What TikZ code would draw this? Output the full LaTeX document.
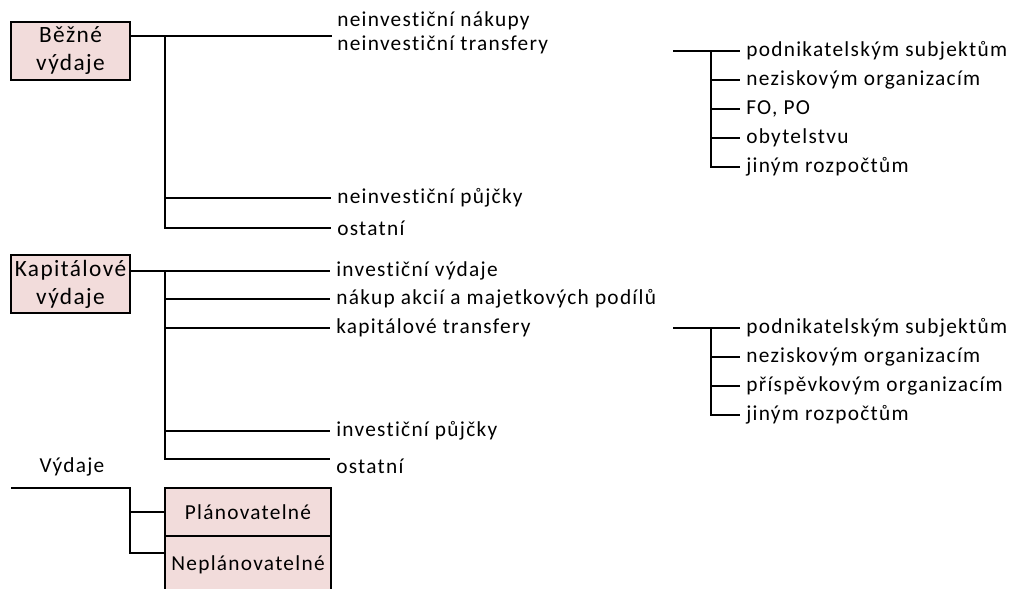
\documentclass[tikz,border=0pt]{standalone}
\usepackage{fontspec}
\setmainfont{Carlito}[LetterSpace=6,Ligatures=NoCommon]
\usetikzlibrary{positioning}
\definecolor{boxpink}{HTML}{F2DCDB}

\begin{document}
\begin{tikzpicture}[x=0.75pt,y=-0.75pt,line width=1.5pt,node distance=18pt,on grid,
    font=\fontsize{16pt}{18pt}\selectfont,
    group/.style={draw,fill=boxpink,align=center,inner sep=0pt,minimum width=89.25pt,minimum height=43.5pt,
      font=\fontsize{17.5pt}{21pt}\selectfont},
    kind/.style={draw,fill=boxpink,inner sep=0pt,minimum width=124.5pt},
    item/.style={anchor=west,inner xsep=4pt,inner ysep=2pt}]
      \useasboundingbox (0,0) rectangle (1019,588);
      \clip (0,0) rectangle (1019,588);
      % bezne vydaje
      \node[group] (bez) at (70.5,51) {Běžné\\výdaje};
      \node[item] (bn1) at (331,21) {neinvestiční nákupy};
      \node[item] (bn2) [below=of bn1.west, anchor=west] {neinvestiční transfery};
      \node[item] (bn3) at (331,198) {neinvestiční půjčky};
      \node[item] (bn4) [below=22.5pt of bn3.west, anchor=west] {ostatní};
      \coordinate (bjA) at (165,36);
      \coordinate (bjE) at (332,36);
      \draw (bez.east |- bjA) -- (bjE);
      \draw (bjA) |- (bn4.west);
      \draw (bjA |- bn3.west) -- (bn3.west);
      % transfery
      \node[item] (t1) at (740,51) {podnikatelským subjektům};
      \node[item] (t2) [below=21.75pt of t1.west, anchor=west] {neziskovým organizacím};
      \node[item] (t3) [below=21.75pt of t2.west, anchor=west] {FO, PO};
      \node[item] (t4) [below=21.75pt of t3.west, anchor=west] {obytelstvu};
      \node[item] (t5) [below=21.75pt of t4.west, anchor=west] {jiným rozpočtům};
      \coordinate (tA) at (673,51);
      \coordinate (tB) at (711,51);
      \draw (tA) -- (t1.west);
      \draw (tB) |- (t5.west);
      \draw (tB |- t2.west) -- (t2.west);
      \draw (tB |- t3.west) -- (t3.west);
      \draw (tB |- t4.west) -- (t4.west);
      % kapitalove vydaje
      \node[group] (kap) at (70.5,284) {Kapitálové\\výdaje};
      \node[item] (kv1) at (330,271) {investiční výdaje};
      \node[item] (kv2) [below=21pt of kv1.west, anchor=west] {nákup akcií a majetkových podílů};
      \node[item] (kv3) [below=21.75pt of kv2.west, anchor=west] {kapitálové transfery};
      \node[item] (kv4) at (330,431) {investiční půjčky};
      \node[item] (kv5) at (330,466) {ostatní};
      \coordinate (kjA) at (165,271);
      \coordinate (kjE) at (330,459);
      \draw (kap.east |- kv1.west) -- (kv1.west);
      \draw (kjA) |- (kjE);
      \draw (kjA |- kv2.west) -- (kv2.west);
      \draw (kjA |- kv3.west) -- (kv3.west);
      \draw (kjA |- kv4.west) -- (kv4.west);
      % kapitalove transfery
      \node[item] (p1) at (740,328) {podnikatelským subjektům};
      \node[item] (p2) [below=21.75pt of p1.west, anchor=west] {neziskovým organizacím};
      \node[item] (p3) [below=21.75pt of p2.west, anchor=west] {příspěvkovým organizacím};
      \node[item] (p4) [below=21.75pt of p3.west, anchor=west] {jiným rozpočtům};
      \coordinate (pA) at (673,328);
      \coordinate (pB) at (711,328);
      \draw (pA) -- (p1.west);
      \draw (pB) |- (p4.west);
      \draw (pB |- p2.west) -- (p2.west);
      \draw (pB |- p3.west) -- (p3.west);
      % planovatelne
      \node (vyd) at (72,467) {Výdaje};
      \node[kind, minimum height=36pt] (pl) at (248,512) {Plánovatelné};
      \node[kind, minimum height=43.5pt] (np) at (248,565) {Neplánovatelné};
      \coordinate (v0) at (11,488);
      \coordinate (v1) at (130,488);
      \draw (v0) -- (v1) |- ([yshift=9pt]np.west);
      \draw (v1 |- pl.west) -- (pl.west);
    \end{tikzpicture}
\end{document}
